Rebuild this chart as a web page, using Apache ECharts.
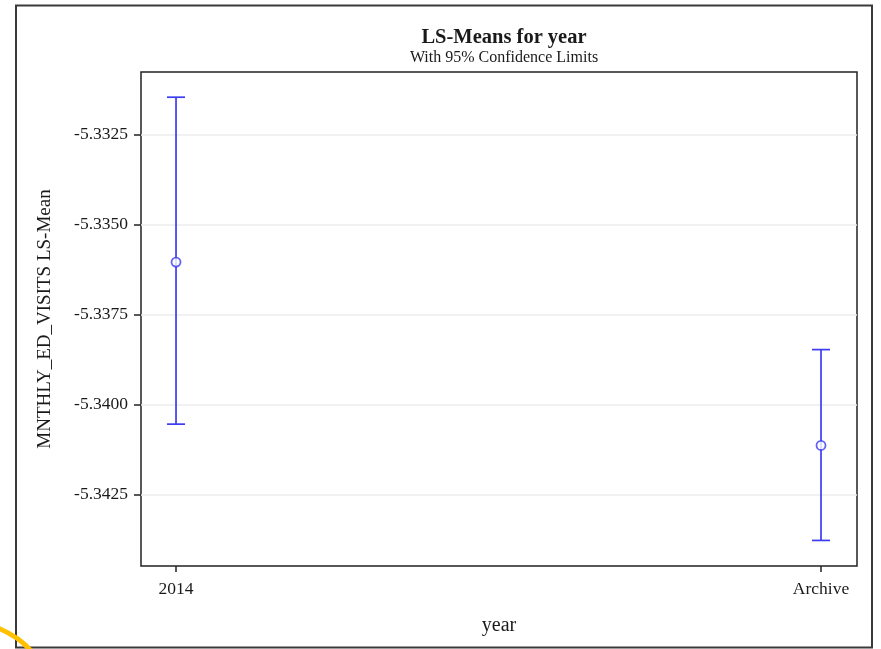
<!DOCTYPE html>
<html>
<head>
<meta charset="utf-8">
<script src="https://cdn.jsdelivr.net/npm/echarts@6/dist/echarts.min.js"></script>
<style>
html,body{margin:0;padding:0;background:#fff;}
#chart{width:881px;height:649px;}
</style>
</head>
<body>
<div id="chart"></div>
<script>
// ---- data ----
var categories = ['2014', 'Archive'];
var lsMeans = [-5.33605, -5.34114];
var lowerCL = [-5.34055, -5.34378];
var upperCL = [-5.33147, -5.33848];
var yTicks = [-5.3425, -5.3400, -5.3375, -5.3350, -5.3325];
var yMin = -5.34449, yMax = -5.33077;

var FONT = '"Liberation Serif","Times New Roman",serif';
var BLUE = '#3c3cf2';

var chart = echarts.init(document.getElementById('chart'));

var barData = categories.map(function (c, i) { return [i, lowerCL[i], upperCL[i]]; });
var meanData = categories.map(function (c, i) { return [i, lsMeans[i]]; });

var option = {
  backgroundColor: '#fff',
  animation: false,
  title: [
    { text: 'LS-Means for year', left: 499, top: 22, textAlign: 'center',
      textStyle: { fontFamily: FONT, fontSize: 20.5, fontWeight: 'bold', color: '#1a1a1a' } },
    { text: 'With 95% Confidence Limits', left: 499, top: 45, textAlign: 'center',
      textStyle: { fontFamily: FONT, fontSize: 16, fontWeight: 'normal', color: '#1a1a1a' } }
  ],
  grid: {
    left: 141, right: 24, top: 72, bottom: 83,
    show: true, borderColor: '#222', borderWidth: 1.5, backgroundColor: 'transparent'
  },
  xAxis: {
    type: 'value', min: -0.0543, max: 1.0558,
    name: 'year', nameLocation: 'middle', nameGap: 50,
    nameTextStyle: { fontFamily: FONT, fontSize: 20, color: '#1a1a1a' },
    axisLine: { show: false, onZero: false },
    axisTick: { show: true, length: 6, customValues: [0, 1], lineStyle: { color: '#222', width: 1.5 } },
    axisLabel: {
      customValues: [0, 1], margin: 14,
      fontFamily: FONT, fontSize: 17.5, color: '#1a1a1a',
      formatter: function (v) { return categories[Math.round(v)]; }
    },
    splitLine: { show: false }
  },
  yAxis: {
    type: 'value', min: yMin, max: yMax,
    name: 'MNTHLY_ED_VISITS LS-Mean', nameLocation: 'middle', nameGap: 86,
    nameTextStyle: { fontFamily: FONT, fontSize: 19, color: '#1a1a1a' },
    axisLine: { show: false, onZero: false },
    axisTick: { show: true, length: 7, customValues: yTicks, lineStyle: { color: '#222', width: 1.5 } },
    axisLabel: {
      customValues: yTicks, margin: 13,
      fontFamily: FONT, fontSize: 17.5, color: '#1a1a1a',
      formatter: function (v) { return v.toFixed(4); }
    },
    splitLine: { show: true, lineStyle: { color: '#ededed', width: 1.5 } }
  },
  graphic: [
    { type: 'rect', shape: { x: 16, y: 5.5, width: 856, height: 642 },
      style: { fill: 'none', stroke: '#3a3a3a', lineWidth: 2 }, z: 100 },
    { type: 'bezierCurve', shape: { x1: -2, y1: 628, cpx1: 12, cpy1: 634, cpx2: 22, cpy2: 640, x2: 31, y2: 651 },
      style: { fill: 'none', stroke: '#ffc000', lineWidth: 5 }, z: 101 }
  ],
  series: [
    {
      type: 'custom',
      data: barData,
      encode: { x: 0, y: [1, 2] },
      renderItem: function (params, api) {
        var x = api.value(0);
        var lo = api.coord([x, api.value(1)]);
        var hi = api.coord([x, api.value(2)]);
        var half = 9;
        var style = { stroke: BLUE, lineWidth: 1.7, fill: 'none' };
        return {
          type: 'group',
          children: [
            { type: 'line', shape: { x1: lo[0], y1: lo[1], x2: hi[0], y2: hi[1] }, style: style },
            { type: 'line', shape: { x1: lo[0] - half, y1: lo[1], x2: lo[0] + half, y2: lo[1] }, style: style },
            { type: 'line', shape: { x1: hi[0] - half, y1: hi[1], x2: hi[0] + half, y2: hi[1] }, style: style }
          ]
        };
      },
      z: 5
    },
    {
      type: 'scatter',
      data: meanData,
      symbol: 'circle', symbolSize: 9,
      itemStyle: { color: '#fff', borderColor: BLUE, borderWidth: 1.8 },
      z: 6
    }
  ]
};
chart.setOption(option);
</script>
</body>
</html>
